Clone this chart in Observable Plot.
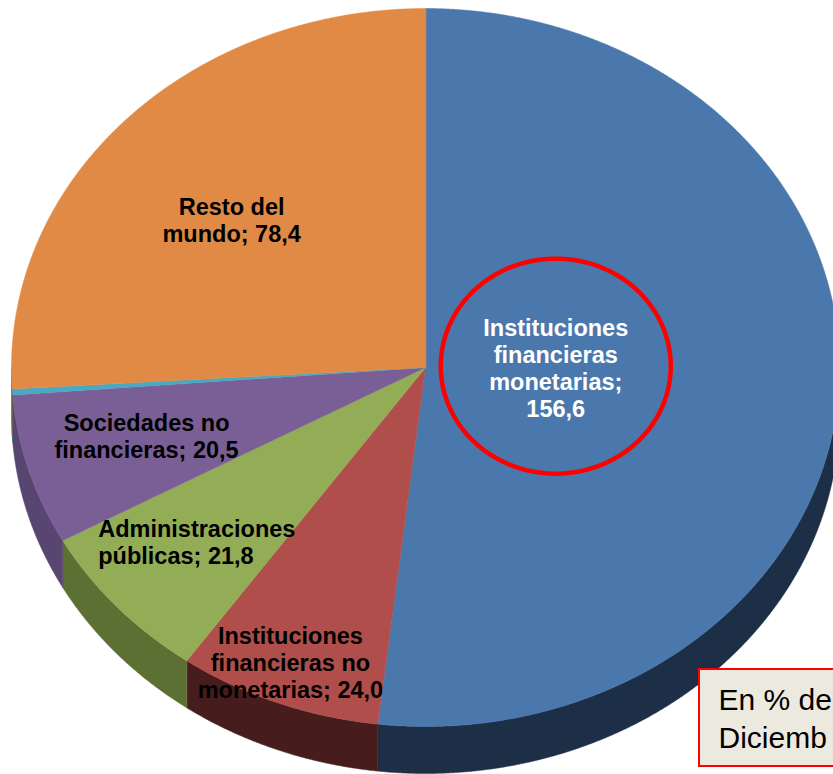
<!DOCTYPE html>
<html>
<head>
<meta charset="utf-8">
<script src="https://cdn.jsdelivr.net/npm/d3@7"></script>
<script src="https://cdn.jsdelivr.net/npm/@observablehq/plot@0.6"></script>
<style>
  html, body { margin: 0; padding: 0; overflow: hidden; background: #fff; }
  #chart svg { display: block; }
</style>
</head>
<body>
<div id="chart"></div>
<script>
// ---------- data ----------
const categories = [
  "Instituciones financieras monetarias",
  "Instituciones financieras no monetarias",
  "Administraciones públicas",
  "Sociedades no financieras",
  "Otros",
  "Resto del mundo"
];
const values = [156.6, 24.0, 21.8, 20.5, 0.8, 78.4];
const labels = [
  "Instituciones\nfinancieras\nmonetarias;\n156,6",
  "Instituciones\nfinancieras no\nmonetarias; 24,0",
  "Administraciones\npúblicas; 21,8",
  "Sociedades no\nfinancieras; 20,5",
  "",
  "Resto del\nmundo; 78,4"
];
const colors = ["#4a78ad", "#b04e4b", "#93ad57", "#7a5f96", "#4aa8c3", "#e08a45"];
const sideColors = ["#1d2f47", "#461c1c", "#5d7034", "#584571", "#2f6a7a", "#8a5226"];
const noteLines = ["En % de", "Diciemb"];

// ---------- layout (styles / geometry, not data) ----------
const W = 833, H = 774;
const geom = {cx: 425, cy: 367, rx: 414, ry: 359, depth: 47};
const labelLayout = [
  {f: 0.32, dx: -2, dy: -6, anchor: "middle", fill: "#ffffff"},
  {f: 0.88, dx: -5, dy: 0, anchor: "middle", fill: "#000000"},
  {f: 0.73, dx: -102, dy: 0, anchor: "start", fill: "#000000"},
  {f: 0.703, dx: 0, dy: -4, anchor: "middle", fill: "#000000"},
  null,
  {f: 0.62, dx: -7, dy: 5, anchor: "middle", fill: "#000000"}
];
const FONT = "'Liberation Sans', Arial, Helvetica, sans-serif";

// ---------- geometry from data ----------
const arcs = d3.pie().sort(null).value(d => d)(values);
const P = (a, r = 1, dz = 0) => ({
  x: geom.cx + geom.rx * r * Math.sin(a),
  y: geom.cy - geom.ry * r * Math.cos(a) + dz
});

// top faces
const topPts = [];
arcs.forEach((arc, i) => {
  topPts.push({...P(0, 0), i, col: colors[i]});
  const n = Math.max(2, Math.ceil((arc.endAngle - arc.startAngle) / 0.004));
  for (let k = 0; k <= n; k++) {
    const a = arc.startAngle + (arc.endAngle - arc.startAngle) * k / n;
    topPts.push({...P(a), i, col: colors[i]});
  }
});

// side walls (front half only), one polygon per slice
const sidePts = [];
arcs.forEach((arc, i) => {
  const s = Math.max(arc.startAngle, Math.PI / 2);
  const e = Math.min(arc.endAngle, 3 * Math.PI / 2);
  if (e <= s) return;
  const n = Math.max(2, Math.ceil((e - s) / 0.004));
  const upper = [], lower = [];
  for (let k = 0; k <= n; k++) {
    const a = s + (e - s) * k / n;
    upper.push(P(a));
    lower.push(P(a, 1, geom.depth));
  }
  [...upper, ...lower.reverse()].forEach(p => sidePts.push({...p, i, col: sideColors[i]}));
});

// labels
const labelMarks = [];
arcs.forEach((arc, i) => {
  const L = labelLayout[i];
  if (!L || !labels[i]) return;
  const mid = (arc.startAngle + arc.endAngle) / 2;
  const p = P(mid, L.f);
  labelMarks.push(Plot.text([{x: p.x + L.dx, y: p.y + L.dy, t: labels[i]}], {
    x: "x", y: "y", text: "t",
    fill: L.fill, textAnchor: L.anchor, lineAnchor: "middle",
    lineHeight: 1.15, fontSize: 23.5, fontWeight: "bold", fontFamily: FONT
  }));
});

// red highlight ellipse around the main label
const m0 = P((arcs[0].startAngle + arcs[0].endAngle) / 2, labelLayout[0].f);
const ec = {x: m0.x + labelLayout[0].dx, y: m0.y - 8};
const ellipsePts = d3.range(0, 360, 2).map(d => {
  const a = d * Math.PI / 180;
  return {x: ec.x + 115 * Math.cos(a), y: ec.y + 107.5 * Math.sin(a)};
});

// note box
const noteBox = [{x1: 699, x2: 860, y1: 669, y2: 766}];
const noteText = noteLines.map((t, k) => ({x: 718, y: 700 + k * 38, t}));

const chart = Plot.plot({
  width: W, height: H, margin: 0,
  x: {domain: [0, W], range: [0, W], axis: null},
  y: {domain: [0, H], range: [0, H], axis: null},
  color: {type: "identity"},
  style: {background: "#ffffff", overflow: "hidden"},
  marks: [
    Plot.line(sidePts, {x: "x", y: "y", z: "i", fill: "col", stroke: "col", strokeWidth: 0.5, curve: "linear-closed"}),
    Plot.line(topPts, {x: "x", y: "y", z: "i", fill: "col", stroke: "col", strokeWidth: 0.5, curve: "linear-closed"}),
    ...labelMarks,
    Plot.line(ellipsePts, {x: "x", y: "y", stroke: "#ff0000", strokeWidth: 4.5, curve: "linear-closed"}),
    Plot.rect(noteBox, {x1: "x1", x2: "x2", y1: "y1", y2: "y2", fill: "#ece9df", stroke: "#ff0000", strokeWidth: 2}),
    Plot.text(noteText, {x: "x", y: "y", text: "t", textAnchor: "start", lineAnchor: "middle", fontSize: 30, fill: "#000000", fontFamily: FONT})
  ]
});
document.getElementById("chart").appendChild(chart);
</script>
</body>
</html>
